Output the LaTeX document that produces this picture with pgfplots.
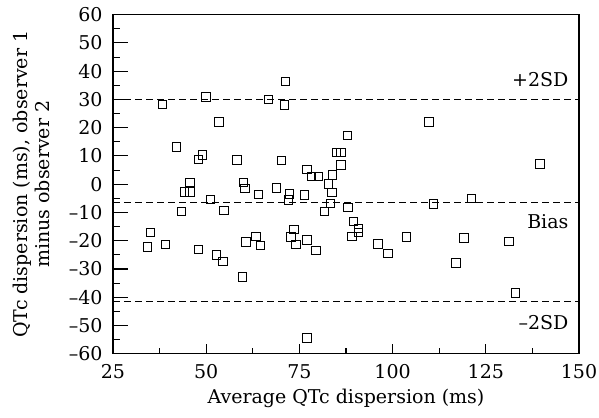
\documentclass[border=0pt]{standalone}
\usepackage{fontspec}
\setmainfont{DejaVu Serif}
\usepackage{pgfplots}
\pgfplotsset{compat=1.18}

\pgfplotstableread{
x y
38.3 28.3
49.9 30.8
66.7 30.0
71.3 36.4
71.0 28.1
53.4 22.0
42.1 13.1
47.9 8.8
49.0 10.3
58.3 8.6
70.2 8.4
77.0 5.1
87.9 17.3
85.0 11.2
86.2 11.2
86.2 6.8
109.8 22.0
139.5 7.1
45.7 0.6
44.2 -2.7
45.7 -2.7
51.1 -5.5
43.3 -9.7
54.8 -9.4
60.0 0.5
60.4 -1.6
64.1 -3.7
68.9 -1.4
72.3 -3.5
72.0 -5.6
76.3 -3.8
78.3 2.8
80.1 2.8
83.9 3.2
82.8 0.0
83.7 -3.0
83.4 -6.8
81.8 -9.6
88.0 -8.3
89.5 -13.1
90.8 -15.7
90.8 -17.2
89.1 -18.5
96.1 -21.1
98.8 -24.6
103.8 -18.7
110.9 -7.0
121.2 -5.0
119.2 -19.1
117.0 -27.9
131.2 -20.3
133.0 -38.5
35.1 -17.0
34.3 -22.2
39.1 -21.3
47.9 -23.2
52.7 -25.0
54.5 -27.3
59.7 -32.9
60.7 -20.5
63.4 -18.5
64.6 -21.7
73.6 -16.1
72.7 -18.7
74.1 -21.4
77.0 -19.7
79.5 -23.5
77.0 -54.5
}\qtcdata

\begin{document}
\begin{tikzpicture}
\begin{axis}[
  scale only axis,
  width=466pt, height=339pt,
  xmin=25, xmax=150, ymin=-60, ymax=60,
  xtick={25,50,75,100,125,150},
  minor xtick={37.5,62.5,87.5,112.5,137.5},
  ytick={-60,-50,...,60},
  minor ytick={-55,-45,...,55},
  yticklabels={\textendash60,\textendash50,\textendash40,\textendash30,\textendash20,\textendash10,0,10,20,30,40,50,60},
  /pgf/number format/assume math mode=true,
  tick align=inside,
  tick pos=left,
  axis line style={line width=1.3pt},
  every tick/.style={black, line width=1.1pt},
  xtick style={/pgfplots/major tick length=10pt, /pgfplots/minor tick length=6pt},
  ytick style={/pgfplots/major tick length=15pt, /pgfplots/minor tick length=7pt},
  ticklabel style={font=\fontsize{19}{22}\selectfont},
  xticklabel style={yshift=-7pt},
  yticklabel style={xshift=-7pt},
  label style={font=\fontsize{19}{22}\selectfont},
  xlabel style={yshift=-4pt},
  ylabel style={align=center, yshift=12pt},
  xlabel={Average QTc dispersion (ms)},
  ylabel={QTc dispersion (ms), observer 1\\minus observer 2},
]
\addplot[black, line width=1pt, dash pattern=on 7pt off 4pt] coordinates {(25,30) (150,30)};
\addplot[black, line width=1pt, dash pattern=on 7pt off 4pt] coordinates {(25,-6.4) (150,-6.4)};
\addplot[black, line width=1pt, dash pattern=on 7pt off 4pt] coordinates {(25,-41.4) (150,-41.4)};
\addplot[only marks, mark=square, mark size=4.2pt, mark options={line width=1pt, fill=white, draw=black}] table[x=x, y=y] {\qtcdata};
\node[anchor=base east, font=\fontsize{19}{22}\selectfont] at (axis cs:148.1,34.5) {+2SD};
\node[anchor=base east, font=\fontsize{19}{22}\selectfont] at (axis cs:148.1,-15.8) {Bias};
\node[anchor=base east, font=\fontsize{19}{22}\selectfont] at (axis cs:148.1,-51.6) {\textendash2SD};
\end{axis}
\pgfresetboundingbox
\path[use as bounding box] ([xshift=-113pt,yshift=-64pt]current axis.south west) rectangle ([xshift=20pt,yshift=14.7pt]current axis.north east);
\end{tikzpicture}
\end{document}
